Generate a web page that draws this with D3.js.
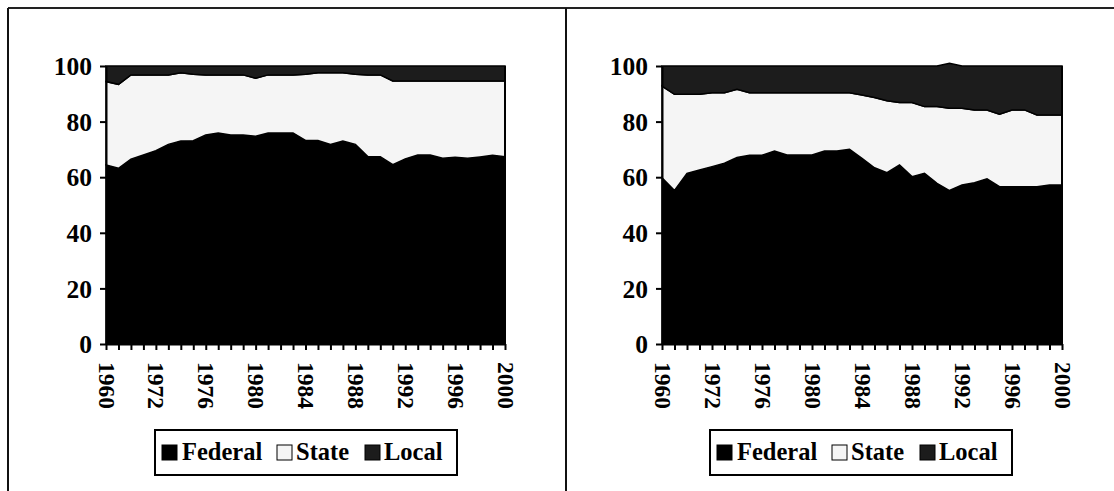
<!DOCTYPE html>
<html>
<head>
<meta charset="utf-8">
<script src="https://cdn.jsdelivr.net/npm/d3@7"></script>
<style>
  html, body { margin: 0; padding: 0; background: #fff; }
  svg { display: block; }
</style>
</head>
<body>
<svg id="chart" width="1114" height="491"></svg>
<script>
const years = [1960, 1965, 1970, 1971, 1972, 1973, 1974, 1975, 1976, 1977, 1978, 1979, 1980,
  1981, 1982, 1983, 1984, 1985, 1986, 1987, 1988, 1989, 1990, 1991, 1992, 1993, 1994,
  1995, 1996, 1997, 1998, 1999, 2000];
const tickLabelYears = [1960, 1972, 1976, 1980, 1984, 1988, 1992, 1996, 2000];
const yTicks = [0, 20, 40, 60, 80, 100];
const seriesNames = ["Federal", "State", "Local"];
const seriesColors = ["#000000", "#f5f5f5", "#1c1c1c"];

// Left panel
const federalA = [64.4, 63.2, 66.5, 68.0, 69.5, 71.8, 73.0, 73.1, 75.2, 75.9, 75.2, 75.2, 74.7,
  75.9, 75.9, 75.9, 73.2, 73.2, 71.8, 73.0, 71.8, 67.4, 67.4, 64.5, 66.6, 68.0, 68.0,
  66.8, 67.2, 66.8, 67.3, 67.9, 67.4];
const stateA = [30.0, 30.2, 30.3, 28.8, 27.3, 25.0, 24.6, 23.9, 21.6, 20.9, 21.6, 21.6, 20.9,
  20.9, 20.9, 20.9, 23.8, 24.4, 25.8, 24.6, 25.2, 29.4, 29.4, 30.1, 28.0, 26.6, 26.6,
  27.8, 27.4, 27.8, 27.3, 26.7, 27.2];
const localA = [5.6, 6.6, 3.2, 3.2, 3.2, 3.2, 2.4, 3.0, 3.2, 3.2, 3.2, 3.2, 4.4,
  3.2, 3.2, 3.2, 3.0, 2.4, 2.4, 2.4, 3.0, 3.2, 3.2, 5.4, 5.4, 5.4, 5.4,
  5.4, 5.4, 5.4, 5.4, 5.4, 5.4];

// Right panel
const federalB = [59.8, 55.2, 61.4, 62.6, 63.8, 65.0, 67.1, 67.9, 67.9, 69.4, 68.0, 68.0, 68.0,
  69.4, 69.4, 70.0, 66.8, 63.4, 61.6, 64.4, 60.2, 61.4, 57.8, 55.2, 57.2, 58.0, 59.4,
  56.6, 56.6, 56.6, 56.6, 57.2, 57.2];
const stateB = [33.0, 34.6, 28.4, 27.2, 26.6, 25.4, 24.5, 22.5, 22.5, 21.0, 22.4, 22.4, 22.4,
  21.0, 21.0, 20.4, 22.8, 25.3, 25.9, 22.5, 26.7, 24.0, 27.6, 29.6, 27.6, 26.2, 24.8,
  26.1, 27.6, 27.6, 25.8, 25.2, 25.2];
const localB = [7.2, 10.2, 10.2, 10.2, 9.6, 9.6, 8.4, 9.6, 9.6, 9.6, 9.6, 9.6, 9.6,
  9.6, 9.6, 9.6, 10.4, 11.3, 12.5, 13.1, 13.1, 14.6, 14.6, 16.2, 15.2, 15.8, 15.8,
  17.3, 15.8, 15.8, 17.6, 17.6, 17.6];

const FONT = "Liberation Serif, Times New Roman, serif";
const svg = d3.select("#chart");

// frame lines
svg.append("line").attr("x1", 8).attr("x2", 1114).attr("y1", 8).attr("y2", 8)
  .attr("stroke", "#222").attr("stroke-width", 2);
svg.append("line").attr("x1", 8).attr("x2", 8).attr("y1", 8).attr("y2", 491)
  .attr("stroke", "#111").attr("stroke-width", 2);
svg.append("line").attr("x1", 566).attr("x2", 566).attr("y1", 8).attr("y2", 491)
  .attr("stroke", "#111").attr("stroke-width", 2);

function drawPanel(fed, state, local, left, right, legendX) {
  const g = svg.append("g");
  const x = d3.scalePoint().domain(years).range([left, right]);
  const y = d3.scaleLinear().domain([0, 100]).range([344, 66]);

  const rows = years.map((yr, i) => ({ year: yr, Federal: fed[i], State: state[i], Local: local[i] }));
  const stacked = d3.stack().keys(seriesNames)(rows);

  const area = d3.area()
    .x(d => x(d.data.year))
    .y0(d => y(d[0]))
    .y1(d => y(d[1]));

  g.selectAll("path.series")
    .data(stacked)
    .join("path")
    .attr("class", "series")
    .attr("d", area)
    .attr("fill", (d, i) => seriesColors[i])
    .attr("stroke", "#000")
    .attr("stroke-width", 1.5)
    .attr("stroke-linejoin", "miter");

  g.append("line").attr("x1", right).attr("x2", right).attr("y1", y(100)).attr("y2", y(0))
    .attr("stroke", "#000").attr("stroke-width", 2);

  // Y axis
  const ya = g.append("g").attr("transform", `translate(${left},0)`)
    .call(d3.axisLeft(y).tickValues(yTicks).tickSize(6).tickPadding(8).tickSizeOuter(0));
  ya.select(".domain").attr("stroke", "#000").attr("stroke-width", 2);
  ya.selectAll(".tick line").attr("stroke", "#000").attr("stroke-width", 2);
  ya.selectAll("text").attr("font-size", 25.5).attr("font-family", FONT)
    .attr("font-weight", "bold").attr("fill", "#000").attr("dy", "0.34em");

  // X axis
  const xa = g.append("g").attr("transform", `translate(0,${y(0)})`)
    .call(d3.axisBottom(x).tickSize(6).tickSizeOuter(0)
      .tickFormat(d => tickLabelYears.includes(d) ? String(d) : ""));
  xa.select(".domain").attr("stroke", "#000").attr("stroke-width", 2);
  xa.selectAll(".tick line").attr("stroke", "#000").attr("stroke-width", 2);
  xa.selectAll("text")
    .attr("font-size", 23.5).attr("font-family", FONT)
    .attr("font-weight", "bold").attr("fill", "#000")
    .attr("text-anchor", "start")
    .attr("transform", "rotate(90)")
    .attr("x", 18).attr("y", 0).attr("dy", "0.34em");

  // Legend
  const lg = g.append("g").attr("transform", `translate(${legendX},430)`);
  lg.append("rect").attr("x", 0).attr("y", 0).attr("width", 302).attr("height", 45)
    .attr("fill", "#fff").attr("stroke", "#000").attr("stroke-width", 2);
  const items = [
    { name: "Federal", sx: 7, tx: 27 },
    { name: "State", sx: 122, tx: 141 },
    { name: "Local", sx: 210, tx: 229 }
  ];
  items.forEach((it, i) => {
    lg.append("rect").attr("x", it.sx).attr("y", 15).attr("width", 15).attr("height", 15)
      .attr("fill", seriesColors[i]).attr("stroke", "#000").attr("stroke-width", 1);
    lg.append("text").attr("x", it.tx).attr("y", 30).attr("font-size", 24.5)
      .attr("font-family", FONT).attr("font-weight", "bold").attr("fill", "#000").text(it.name);
  });
}

drawPanel(federalA, stateA, localA, 106, 505, 155);
drawPanel(federalB, stateB, localB, 662, 1062, 710);
</script>
</body>
</html>
